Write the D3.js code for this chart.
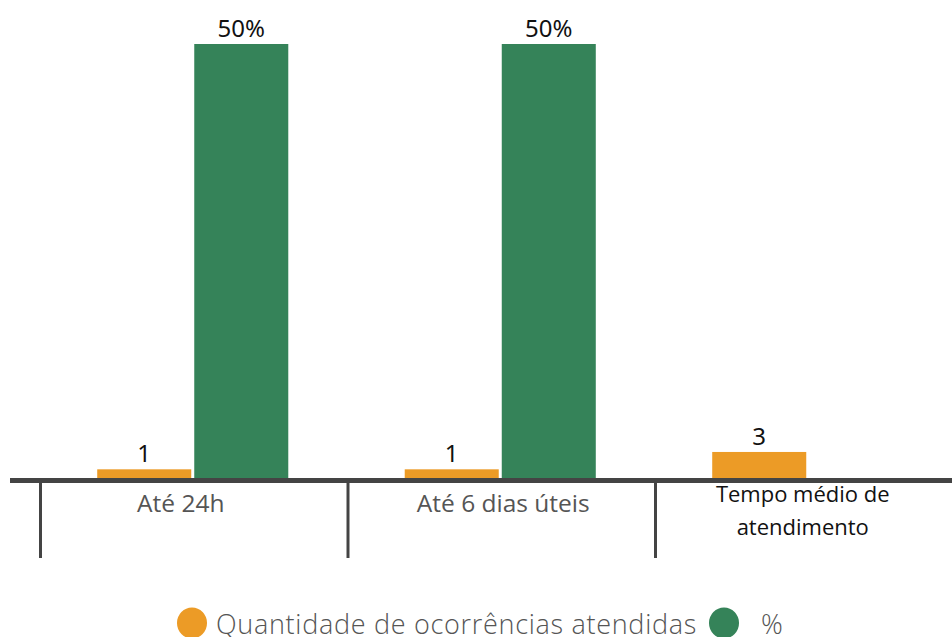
<!DOCTYPE html>
<html><head><meta charset="utf-8">
<script src="https://cdn.jsdelivr.net/npm/d3@7"></script>
<style>html,body{margin:0;padding:0;background:#fff;overflow:hidden}</style>
</head><body><svg id="c" width="952" height="637"></svg>
<script>
const categories = ["Até 24h", "Até 6 dias úteis", "Tempo médio de atendimento"];
const seriesNames = ["Quantidade de ocorrências atendidas", "%"];
const quantidade = [1, 1, 3];
const percent = [50, 50, null];
const percentLabels = ["50%", "50%", ""];
const colors = ["#EC9B26", "#358359"];

const svg = d3.select("#c");
const baseY = 478;
const y = d3.scaleLinear().domain([0, 50]).range([baseY, 44]);
const x0 = d3.scaleBand().domain(categories).range([39, 961.5]).paddingInner(0).paddingOuter(0);
const x1 = d3.scaleBand().domain(seriesNames).range([0, x0.bandwidth()]).paddingInner(0.031).paddingOuter(0.6);

const rows = categories.map((c, i) => ({
  cat: c,
  vals: [
    {s: seriesNames[0], v: quantidade[i], label: String(quantidade[i])},
    {s: seriesNames[1], v: percent[i], label: percentLabels[i]}
  ].filter(d => d.v != null)
}));

const g = svg.append("g");
const groups = g.selectAll("g.cat").data(rows).join("g")
  .attr("transform", d => `translate(${x0(d.cat)},0)`);
groups.selectAll("rect").data(d => d.vals).join("rect")
  .attr("x", d => x1(d.s)).attr("width", x1.bandwidth())
  .attr("y", d => y(d.v)).attr("height", d => baseY - y(d.v))
  .attr("fill", (d) => colors[seriesNames.indexOf(d.s)]);
groups.selectAll("text.val").data(d => d.vals).join("text").attr("class", "val")
  .attr("x", d => x1(d.s) + x1.bandwidth() / 2)
  .attr("y", d => y(d.v) - 7)
  .attr("text-anchor", "middle")
  .attr("font-family", "'Noto Sans', sans-serif").attr("font-size", 24)
  .attr("fill", "#111").text(d => d.label);

// axis line
const axisG = svg.append("g");
axisG.append("line").attr("x1", 10).attr("x2", 952).attr("y1", 480.5).attr("y2", 480.5)
  .attr("stroke", "#444").attr("stroke-width", 5);
// divider ticks
const edges = categories.map(c => x0(c));
axisG.selectAll("line.div").data(edges).join("line").attr("class", "div")
  .attr("x1", d => d + 1.5).attr("x2", d => d + 1.5).attr("y1", 483).attr("y2", 558)
  .attr("stroke", "#444").attr("stroke-width", 3);

// category labels
const labelStyle = [
  {lines: ["Até 24h"], dx: -12, color: "#555", size: 24.5, base: [512]},
  {lines: ["Até 6 dias úteis"], dx: 3, color: "#555", size: 24.5, base: [512]},
  {lines: ["Tempo médio de", "atendimento"], dx: -5, color: "#111", size: 22, base: [502, 535]}
];
categories.forEach((c, i) => {
  const st = labelStyle[i];
  const t = axisG.append("text").attr("text-anchor", "middle")
    .attr("font-family", "'Open Sans', sans-serif").attr("font-size", st.size).attr("fill", st.color);
  st.lines.forEach((ln, j) => {
    t.append("tspan").attr("x", x0(c) + x0.bandwidth() / 2 + st.dx).attr("y", st.base[j]).text(ln);
  });
});

// legend
const leg = svg.append("g");
const legItems = [
  {name: seriesNames[0], cx: 192, tx: 216},
  {name: seriesNames[1], cx: 724, tx: 761}
];
legItems.forEach((d, i) => {
  leg.append("ellipse").attr("cx", d.cx).attr("cy", 623).attr("rx", 15).attr("ry", 15.5).attr("fill", colors[i]);
  leg.append("text").attr("x", d.tx).attr("y", 634)
    .attr("font-family", "'Open Sans', sans-serif").attr("font-weight", 300).attr("font-size", 27)
    .attr("letter-spacing", 0.7)
    .attr("fill", "#555").text(d.name);
});
</script></body></html>
